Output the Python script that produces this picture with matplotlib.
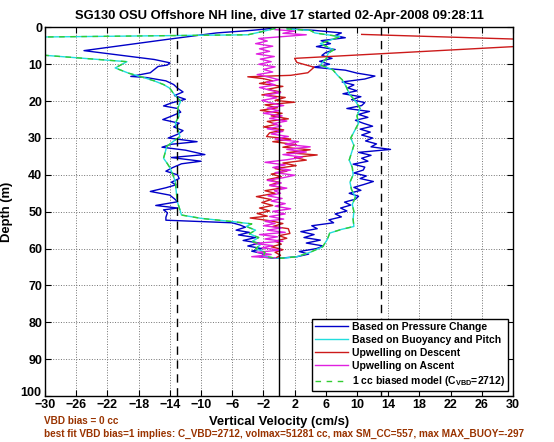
import numpy as np
import matplotlib
matplotlib.use('Agg')
import matplotlib.pyplot as plt
import matplotlib.transforms as mtransforms

plt.rcParams['font.family'] = ['Liberation Sans', 'DejaVu Sans']
plt.rcParams['font.weight'] = 'bold'
plt.rcParams['mathtext.fontset'] = 'custom'
plt.rcParams['mathtext.rm'] = 'Liberation Sans:bold'
plt.rcParams['mathtext.bf'] = 'Liberation Sans:bold'

# glider vertical velocity, descent then ascent (depth m, velocity cm/s)
blue_depth = [0.3, 0.8, 1.5, 3.3, 6.3, 8.7, 9.6, 10.2, 10.6, 12.3, 13.3, 13.6, 14.5, 15.5, 16.5,
              17.5, 18.5, 19.5, 20.5, 21.3, 22.0, 23.0, 24.0, 25.0, 26.0, 27.0, 28.0, 29.0, 30.0,
              31.0, 31.7, 32.5, 33.3, 34.5, 35.3, 36.3, 37.0, 38.0, 39.0, 40.0, 41.0, 42.0, 42.7,
              43.5, 44.5, 45.5, 46.5, 47.3, 48.3, 49.0, 49.5, 50.3, 51.5, 52.3, 53.0, 53.6, 54.2,
              55.0, 55.6, 56.3, 57.0, 57.8, 58.5, 59.3, 60.0, 60.7, 61.5, 62.2, 62.6,
              62.6, 62.2, 61.5, 60.8, 60.0, 59.3, 58.5, 57.7, 57.0, 56.2, 55.4, 54.6, 53.8, 53.0,
              52.2, 51.4, 50.6, 49.8, 49.0, 48.2, 47.4, 46.6, 45.8, 45.0, 44.2, 43.4, 42.6, 41.8,
              41.0, 40.3, 39.5, 38.7, 37.9, 37.1, 36.3, 35.5, 34.7, 33.9, 33.1, 32.4, 31.6, 30.8,
              30.0, 29.2, 28.4, 27.6, 26.8, 26.0, 25.2, 24.4, 23.6, 22.8, 22.0, 21.2, 20.4, 19.6,
              18.8, 18.0, 17.2, 16.4, 15.6, 14.8, 14.0, 13.2, 12.4, 11.6, 10.8, 10.0, 9.2, 8.4,
              7.6, 6.8, 6.0, 5.2, 4.4, 3.6, 2.8, 2.2, 1.5, 0.8, 0.4]
blue_vel = [-1.0, -3.5, -8.0, -14.5, -25.0, -16.0, -14.0, -14.3, -15.5, -16.5, -19.0, -17.0, -14.5,
            -13.5, -13.0, -12.3, -13.4, -12.0, -13.8, -14.8, -13.0, -12.6, -13.7, -14.9, -12.8,
            -13.5, -12.3, -13.0, -14.2, -10.5, -13.8, -15.0, -12.0, -9.5, -13.8, -10.0, -12.5,
            -13.6, -14.5, -13.0, -12.8, -13.8, -13.2, -14.5, -16.5, -14.0, -13.4, -13.0, -15.8,
            -13.0, -14.8, -14.3, -14.5, -14.5, -6.0, -5.0, -4.3, -5.5, -3.8, -5.2, -3.0, -4.6,
            -2.5, -4.0, -2.2, -3.5, -1.8, -2.5, -0.8,
            0.2, 2.3, 3.8, 2.6, 4.8, 5.7, 3.5, 5.3, 3.2, 4.5, 2.8, 4.9, 4.2, 7.0, 6.4, 8.0, 7.2,
            8.7, 7.9, 9.2, 8.4, 9.8, 10.2, 9.0, 10.5, 9.6, 10.9, 12.1, 10.4, 11.2, 9.6, 10.8,
            11.0, 9.5, 11.4, 10.6, 11.8, 10.2, 14.3, 11.8, 12.5, 11.1, 12.0, 10.6, 11.7, 10.4,
            12.0, 10.8, 9.8, 11.4, 10.2, 11.6, 8.7, 10.6, 11.0, 9.3, 10.5, 8.2, 10.0, 8.8, 9.6,
            8.1, 11.0, 12.3, 10.0, 8.5, 4.4, 6.5, 5.2, 6.8, 5.5, 6.0, 7.2, 4.8, 6.6, 5.4, 8.5,
            7.2, 8.0, 4.5, 1.5]

cyan_depth = [0.3, 1.3, 2.0, 3.2, 9.3, 11.0, 12.4, 13.5, 14.5, 15.5, 16.5, 18.0, 20.0, 22.0, 24.0,
              26.0, 28.0, 29.6, 31.0, 32.3, 34.0, 35.5, 37.0, 38.0, 40.0, 41.8, 44.0, 45.9, 47.5,
              49.5, 50.9, 51.8, 52.7, 53.3, 54.0, 55.0, 56.0, 57.0, 58.0, 59.0, 60.0, 61.0, 62.0,
              62.6,
              62.6, 62.2, 61.0, 59.5, 57.5, 55.8, 54.8, 54.0, 52.0, 50.0, 48.0, 46.0, 44.0, 42.0,
              40.0, 38.0, 36.0, 34.0, 32.0, 30.0, 28.0, 26.0, 24.0, 22.0, 20.0, 18.0, 16.0, 14.2,
              13.0, 11.5, 10.2, 9.0, 8.4, 7.0, 6.1, 5.0, 4.4, 3.5, 2.5, 1.5, 0.8, 0.4]
cyan_vel = [-0.5, -2.5, -4.0, -56.5, -19.5, -21.0, -19.3, -17.5, -16.0, -14.8, -14.0, -13.5, -12.6,
            -13.0, -12.8, -13.3, -12.9, -12.7, -13.6, -14.4, -14.6, -14.8, -14.3, -14.0, -13.6,
            -13.3, -13.2, -13.1, -13.0, -12.7, -12.5, -10.0, -5.9, -3.5, -4.2, -3.0, -3.8, -2.6,
            -3.4, -2.4, -3.0, -1.8, -2.0, -0.5,
            0.5, 2.3, 4.0, 5.6, 6.2, 6.5, 8.0, 9.6, 9.5, 9.6, 9.4, 9.8, 9.3, 9.1, 9.5, 9.4, 9.0,
            9.3, 9.6, 9.2, 9.7, 10.2, 10.0, 10.4, 9.8, 9.0, 8.6, 8.1, 7.5, 6.9, 5.3, 5.8, 6.1,
            6.3, 7.0, 5.9, 5.3, 6.5, 7.8, 4.6, 4.0, 1.0]

red_depth = [1.9, 3.9, 8.4, 9.5, 10.8, 12.3, 13.0, 13.4, 13.9, 14.5, 15.2, 16.0, 16.8, 17.5, 18.3,
             19.0, 19.8, 20.3, 21.0, 21.8, 22.5, 23.3, 24.0, 24.8, 25.5, 26.3, 27.0, 27.8, 28.6,
             29.6, 30.3, 31.0, 31.8, 32.5, 33.2, 34.0, 34.6, 35.3, 36.0, 36.8, 37.5, 38.3, 39.0,
             39.8, 40.5, 41.3, 42.0, 42.8, 43.5, 44.3, 45.0, 45.9, 46.7, 47.5, 48.3, 49.0, 49.8,
             50.5, 51.2, 51.7, 52.5, 53.2, 54.0, 54.6, 55.9, 56.5, 57.2, 58.0, 58.8, 59.5, 60.3,
             61.0, 61.8, 62.4]
red_vel = [10.6, 41.6, 2.0, 2.3, 4.5, 3.7, 1.5, -4.0, -2.0, -0.8, -2.5, 0.5, -1.5, 0.2, -2.2, 0.8,
           -0.5, 2.0, -1.8, -0.2, -2.4, 0.4, -1.0, 1.2, -1.5, -0.3, -2.0, 0.6, -1.2, -1.6, 1.5,
           -0.8, 2.2, 0.5, 4.0, 1.0, 4.9, 2.0, 3.5, 0.5, 2.2, -0.5, 1.0, -1.0, 0.3, -1.5, 0.0,
           -1.2, 0.5, -1.8, -0.5, -2.9, -1.0, -2.2, -0.8, -2.5, -1.2, -2.8, -1.5, -3.7, -1.0, 0.5,
           -0.8, 1.2, 1.4, 0.0, 1.0, -0.5, 0.3, -1.0, 0.5, -0.5, 0.2, -0.3]

mag_depth = [62.5, 62.2, 61.6, 61.0, 60.4, 59.8, 59.2, 58.6, 58.0, 57.4, 56.8, 56.2, 55.6, 55.0,
             54.4, 53.8, 53.2, 52.6, 52.0, 51.3, 50.6, 49.9, 49.2, 48.5, 47.8, 47.1, 46.4, 45.7,
             45.0, 44.3, 43.6, 42.9, 42.2, 41.5, 40.8, 40.1, 39.4, 38.7, 38.0, 37.3, 36.6, 35.9,
             35.2, 34.5, 33.8, 33.1, 32.4, 31.7, 31.0, 30.3, 29.6, 28.9, 28.2, 27.5, 26.8, 26.1,
             25.4, 24.7, 24.0, 23.3, 22.6, 21.9, 21.2, 20.5, 19.8, 19.1, 18.4, 17.7, 17.0, 16.3,
             15.6, 14.9, 14.2, 13.5, 12.8, 12.1, 11.4, 10.7, 10.0, 9.3, 8.6, 7.9, 7.2, 6.5, 5.8,
             5.1, 4.4, 3.7, 3.0, 2.0, 1.6, 1.0, 0.6]
mag_vel = [-0.5, -3.5, -1.0, -2.8, 0.2, -2.2, -0.8, -3.2, 0.5, -1.8, -0.2, -2.5, 0.8, -1.5, 0.3,
           -2.0, -0.5, -1.8, 0.6, -1.2, 0.8, -0.8, 1.5, -0.5, 0.8, -1.0, 0.4, -1.4, 0.2, -0.6, 1.0,
           -1.2, 0.3, -1.5, 0.5, 2.0, -0.5, 1.5, -0.8, 0.8, -1.8, 1.0, 3.0, 0.5, 3.5, 1.0, 4.0,
           0.8, 2.5, -0.5, 1.2, -1.0, 0.5, -1.5, 0.3, -0.8, 1.0, -1.2, 0.4, -2.0, 0.0, -1.5, 0.6,
           -1.0, -2.2, -0.3, -1.8, 0.2, -1.2, -2.5, -0.5, -1.6, 0.0, -1.3, -2.8, -0.8, -2.0, -0.5,
           -2.6, -1.0, -2.4, -0.6, -2.9, -1.2, -2.5, -0.8, -3.0, -1.5, -2.6, 3.5, 0.5, 2.0, -0.5]

model_bounds = [-13.1, 13.1]

title = 'SG130 OSU Offshore NH line, dive 17 started 02-Apr-2008 09:28:11'
note1 = 'VBD bias = 0 cc'
note2 = ('best fit VBD bias=1 implies: C_VBD=2712, volmax=51281 cc, '
         'max SM_CC=557, max MAX_BUOY=-297')

fig = plt.figure(figsize=(5.54, 4.42), dpi=100)
ax = fig.add_axes([0.0812, 0.104, 0.8448, 0.834])

ax.plot(blue_vel, blue_depth, color='#0000c8', lw=1.0, label='Based on Pressure Change')
ax.plot(cyan_vel, cyan_depth, color='#22dddd', lw=1.0, label='Based on Buoyancy and Pitch')
ax.plot(red_vel, red_depth, color='#cc1a1a', lw=1.0, label='Upwelling on Descent')
ax.plot(mag_vel, mag_depth, color='#e020e0', lw=1.0, label='Upwelling on Ascent')
ax.plot(cyan_vel, cyan_depth, color='#33cc33', lw=1.0, ls=(0, (4, 4)),
        label='1 cc biased model (C$_{\\rm VBD}$=2712)')
for b in model_bounds:
    ax.axvline(b, color='k', lw=1.0, ls=(0, (6, 4)))
ax.axvline(0, color='k', lw=1.0)

ax.set_xlim(-30, 30)
ax.set_ylim(100, 0)
ax.set_xticks(np.arange(-30, 31, 4))
ax.set_yticks(np.arange(0, 101, 10))
ax.grid(True, color='0.45', ls=':', lw=0.7)
ax.tick_params(direction='in', top=True, right=True, labelsize=9, length=4, pad=2)
for lab in ax.get_xticklabels() + ax.get_yticklabels():
    lab.set_fontweight('bold')
for s in ax.spines.values():
    s.set_linewidth(1.0)

# lift the bottom depth label so it clears the -30 label, as in the original
fig.canvas.draw()
ylabs = ax.get_yticklabels()
lift = mtransforms.ScaledTranslation(-1 / 100, 5 / 100, fig.dpi_scale_trans)
ylabs[-1].set_transform(ylabs[-1].get_transform() + lift)

ax.set_title(title, fontsize=9.4, fontweight='bold', pad=6)
ax.set_xlabel('Vertical Velocity (cm/s)', fontsize=9.4, fontweight='bold', labelpad=4)
ax.set_ylabel('Depth (m)', fontsize=9.4, fontweight='bold', labelpad=5)

leg = ax.legend(loc='lower right', fontsize=7.5, frameon=True, fancybox=False,
                edgecolor='k', framealpha=1, handlelength=3.2, handletextpad=0.4,
                borderpad=0.3, labelspacing=0.3, borderaxespad=0.45)
leg.get_frame().set_linewidth(1.0)
for t in leg.get_texts():
    t.set_fontweight('bold')

fig.text(0.079, 0.047, note1, color='#993300', fontsize=7.2, fontweight='bold', va='center')
fig.text(0.079, 0.019, note2, color='#993300', fontsize=7.2, fontweight='bold', va='center')

fig.savefig('out.png', dpi=100)
